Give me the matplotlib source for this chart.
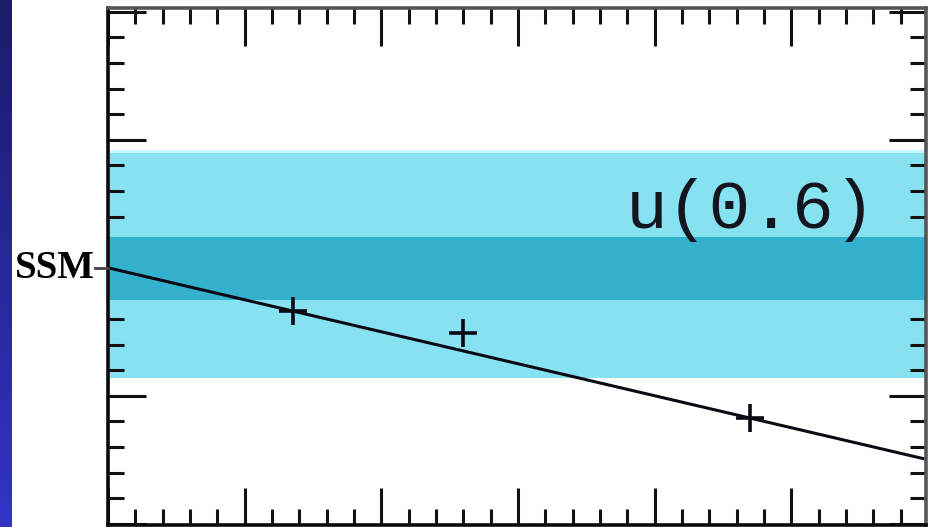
import numpy as np
import matplotlib
matplotlib.use("Agg")
import matplotlib.pyplot as plt
from matplotlib.ticker import MultipleLocator

# ---- data (arbitrary units) ----
outer_band = [1.14, 2.92]      # light band (low, high)
inner_band = [1.75, 2.24]      # dark band (low, high)
ssm_value = 2.0
line_x = [0.0, 6.0]
line_y = [2.0, 0.5]
point_x = [1.35, 2.60, 4.70]
point_y = [1.66, 1.49, 0.83]
panel_label = "u(0.6)"
ref_label = "SSM"

W, H = 938, 527
fig = plt.figure(figsize=(W / 100, H / 100), dpi=100)
fig.patch.set_facecolor("white")

# left gradient strip
strip = fig.add_axes([0, 0, 11 / W, 1])
grad = np.linspace(0, 1, 256).reshape(-1, 1)
top_c = np.array([0x1b, 0x1b, 0x68]) / 255
bot_c = np.array([0x33, 0x33, 0xc8]) / 255
img = top_c[None, None, :] * (1 - grad[:, :, None]) + bot_c[None, None, :] * grad[:, :, None]
strip.imshow(img, aspect="auto", extent=[0, 1, 0, 1])
strip.axis("off")

ax = fig.add_axes([108 / W, 2 / H, (926 - 108) / W, (525 - 8) / H])
ax.set_xlim(0, 5.985)
ax.set_ylim(-0.01, 4.03)

ax.axhspan(outer_band[0], outer_band[1], color="#86e1f1", lw=0, zorder=1)
ax.axhline(outer_band[1] - 0.01, color="#c4f7ff", lw=2.2, zorder=1.5)
ax.axhspan(inner_band[0], inner_band[1], color="#34b1cd", lw=0, zorder=2)

ax.plot(line_x, line_y, color="#0a0a14", lw=2.2, zorder=3)
ax.plot(point_x, point_y, ls="none", marker="+", ms=20, mew=2.6,
        color="#0a0a14", zorder=4)

ax.text(3.79, 2.31, panel_label, fontsize=50, family="Liberation Mono",
        color="#15151f", ha="left", va="baseline", zorder=5)

ax.xaxis.set_major_locator(MultipleLocator(1))
ax.xaxis.set_minor_locator(MultipleLocator(0.2))
ax.yaxis.set_major_locator(MultipleLocator(1))
ax.yaxis.set_minor_locator(MultipleLocator(0.2))
ax.tick_params(which="both", direction="in", top=True, right=True,
               labelbottom=False, labelleft=False, color="#111111", width=2.2)
ax.tick_params(which="major", length=27)
ax.tick_params(which="minor", length=11.5)
for s in ["left", "bottom"]:
    ax.spines[s].set_color("#0a0a0a")
for s in ["top", "right"]:
    ax.spines[s].set_color("#555555")
for s in ax.spines.values():
    s.set_linewidth(2.6)
    s.set_zorder(6)

# SSM label with connecting dash
yfig = 1 - 268 / H
fig.text(95 / W, yfig, ref_label, fontsize=28, family="Liberation Serif",
         weight="bold", ha="right", va="center")
fig.add_artist(plt.Line2D([95 / W, 108 / W], [yfig, yfig], color="#444444", lw=2,
                          transform=fig.transFigure))

fig.savefig("out.png", dpi=100)
